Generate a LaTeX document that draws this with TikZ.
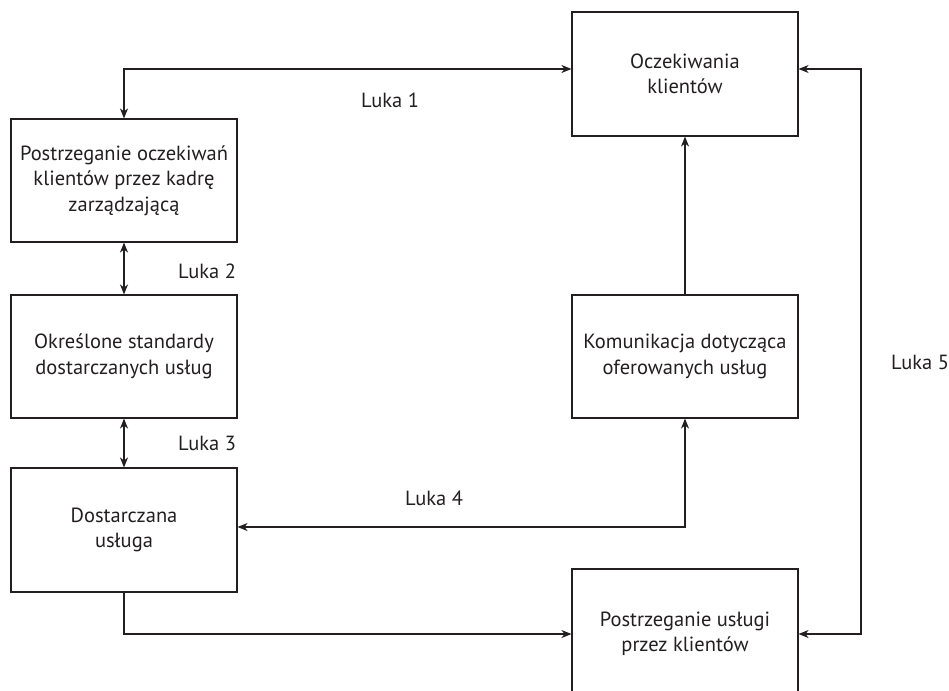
\documentclass[tikz,border=0pt]{standalone}
\usepackage{fontspec}
\setmainfont{PT Sans}
\usepackage{tikz}
\usetikzlibrary{arrows.meta}
\definecolor{ink}{HTML}{231F20}

\begin{document}
\begin{tikzpicture}[x=1pt, y=-1pt,
    box/.style={draw=ink, line width=1.1pt, minimum width=226pt, minimum height=123pt,
                align=center, text=ink, font=\fontsize{20.5}{25.5}\selectfont, inner sep=0pt},
    gap/.style={text=ink, font=\fontsize{20.5}{25.5}\selectfont},
    link/.style={draw=ink, line width=1.1pt},
    tip/.tip={Stealth[length=10pt, width=8pt, inset=3pt]}]
    % Page frame
    \useasboundingbox (0,0) rectangle (949,690);
    \clip (0,0) rectangle (949,690);

    % Left column
    \node[box] (mgmt) at (124,180.5) {Postrzeganie oczekiwań\\klientów przez kadrę\\zarządzającą};
    \node[box] (std) at (124,356.5) {Określone standardy\\dostarczanych usług};
    \node[box, minimum height=124pt] (deliv) at (124,530) {Dostarczana\\usługa};

    % Right column
    \node[box, minimum height=124pt] (expect) at (685,74) {Oczekiwania\\klientów};
    \node[box] (comm) at (685,356.5) {Komunikacja dotycząca\\oferowanych usług};
    \node[box, minimum height=130pt] (percv) at (685,634) {Postrzeganie usługi\\przez klientów};

    % Corner of the Luka 5 loop
    \coordinate (loop) at (861,0);

    % Connectors
    \draw[link, tip-tip] (mgmt.north) |- ([yshift=5pt]expect.west);
    \draw[link, tip-tip] (mgmt.south) -- (std.north);
    \draw[link, tip-tip] (std.south) -- (deliv.north);
    \draw[link, tip-tip] (comm.south) |- ([yshift=3pt]deliv.east);
    \draw[link, -tip] (comm.north) -- (expect.south);
    \draw[link, tip-tip] ([yshift=5pt]expect.east) -- ([yshift=5pt]expect.east -| loop) |- (percv.east);
    \draw[link, -tip] (deliv.south) |- (percv.west);

    % Gap labels
    \node[gap] (l1) at (390,100) {Luka 1};
    \node[gap] (l2) at (207,271) {Luka 2};
    \node[gap] (l3) at (207,443) {Luka 3};
    \node[gap] (l4) at (434,498) {Luka 4};
    \node[gap] (l5) at (920,362) {Luka 5};
\end{tikzpicture}
\end{document}
